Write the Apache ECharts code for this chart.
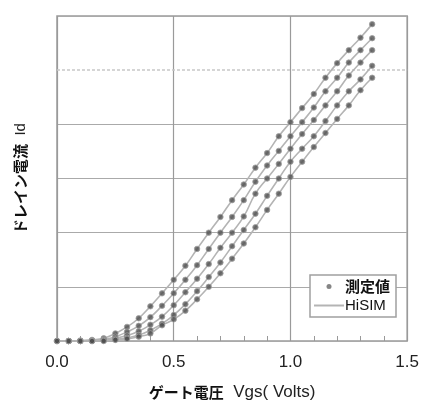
<!DOCTYPE html>
<html><head><meta charset="utf-8">
<script src="https://cdn.jsdelivr.net/npm/echarts@6/dist/echarts.min.js"></script>
<style>html,body{margin:0;padding:0;background:#fff}#c{width:422px;height:406px}</style>
</head><body><div id="c"></div>
<script>
const vgs = [0,0.05,0.1,0.15,0.2,0.25,0.3,0.35,0.4,0.45,0.5,0.55,0.6,0.65,0.7,0.75,0.8,0.85,0.9,0.95,1.0,1.05,1.1,1.15,1.2,1.25,1.3,1.35];
const id1 = [0,0,0.01,0.02,0.05,0.14,0.26,0.42,0.64,0.88,1.13,1.39,1.7,2.0,2.29,2.6,2.89,3.2,3.47,3.78,4.04,4.3,4.56,4.86,5.13,5.37,5.6,5.85];
const id2 = [0,0,0,0.01,0.03,0.08,0.17,0.28,0.44,0.65,0.88,1.13,1.4,1.7,2.0,2.29,2.6,2.94,3.24,3.51,3.78,4.04,4.31,4.61,4.86,5.14,5.37,5.59];
const id3 = [0,0,0,0,0.02,0.05,0.1,0.18,0.3,0.45,0.66,0.9,1.15,1.42,1.72,2.0,2.3,2.72,3.0,3.27,3.55,3.82,4.08,4.35,4.61,4.9,5.14,5.37];
const id4 = [0,0,0,0,0.01,0.03,0.06,0.11,0.2,0.32,0.48,0.68,0.92,1.18,1.45,1.75,2.05,2.35,2.68,3.0,3.31,3.55,3.78,4.06,4.35,4.61,4.83,5.08];
const id5 = [0,0,0,0,0,0.02,0.04,0.08,0.14,0.29,0.4,0.56,0.77,1.0,1.25,1.52,1.8,2.1,2.42,2.72,3.03,3.31,3.58,3.84,4.1,4.35,4.63,4.86];
const curves = [id1,id2,id3,id4,id5];
const xTicks = ['0.0','0.5','1.0','1.5'];
const faintGridY = [5];
const measName = '測定値', simName = 'HiSIM';

const series = [];
curves.forEach((c, k) => {
  const d = vgs.map((x,i)=>[x,c[i]]);
  const s = {name: simName, type:'line', data:d, smooth:true, symbol:'none', z:2,
    lineStyle:{color:'#b4b4b4', width:1.6}, itemStyle:{color:'#b4b4b4'}};
  if (k === 0) {
    s.markLine = {silent:true, symbol:'none', label:{show:false}, z:1,
      lineStyle:{color:'#c8c8c8', type:[3,2], width:1.5},
      data: faintGridY.map(v=>({yAxis:v}))};
  }
  series.push(s);
});
curves.forEach(c => {
  const d = vgs.map((x,i)=>[x,c[i]]);
  series.push({name: measName, type:'scatter', data:d, symbol:'circle', symbolSize:5.5, z:3,
    itemStyle:{color:'#505050', borderColor:'#a0a0a0', borderWidth:1}});
});

const chart = echarts.init(document.getElementById('c'), null, {renderer:'canvas'});
chart.setOption({
  animation:false,
  grid:{left:57, right:12, top:16, bottom:62, show:true, borderColor:'#9a9a9a', borderWidth:1.5},
  legend:{orient:'vertical', left:310, top:275,
    data:[{name:measName, icon:'circle', itemStyle:{color:'#666', borderWidth:0}},
          {name:simName, icon:'path://M0,0H30V2H0Z', itemStyle:{color:'#b4b4b4', borderWidth:0}}],
    backgroundColor:'#fff', borderColor:'#a0a0a0', borderWidth:1.5, borderRadius:0,
    padding:[4,6,4,4], itemGap:4, itemWidth:30, itemHeight:5,
    formatter: n => n===measName ? '{b|'+n+'}' : n,
    textStyle:{fontSize:15, color:'#111', fontFamily:'Liberation Sans', padding:[0,0,0,-4],
      rich:{b:{fontSize:15, fontWeight:'bold', fontFamily:'Noto Sans CJK JP', color:'#111'}}}
  },
  xAxis:{type:'value', min:0, max:1.5, interval:0.5,
    axisLine:{show:false},
    axisTick:{show:true, inside:true, length:5, lineStyle:{color:'#999'}},
    minorTick:{show:true, splitNumber:5, length:5, lineStyle:{color:'#999'}},
    axisLabel:{fontSize:17, color:'#222', fontFamily:'Liberation Sans', margin:13,
      formatter:v=>xTicks[Math.round(v/0.5)]},
    splitLine:{show:true, lineStyle:{color:'#9a9a9a', width:1.2}},
    name:'{b|ゲート電圧}  Vgs( Volts)', nameLocation:'middle', nameGap:43,
    nameTextStyle:{fontSize:17, color:'#222', fontFamily:'Liberation Sans',
      rich:{b:{fontSize:15, fontWeight:'bold', fontFamily:'Noto Sans CJK JP', color:'#111'}}}
  },
  yAxis:{type:'value', min:0, max:6, interval:1,
    axisLine:{show:false}, axisTick:{show:false},
    axisLabel:{show:false},
    splitLine:{show:true, lineStyle:{color:['#aaa','#aaa','#aaa','#aaa','#aaa','rgba(0,0,0,0)','#aaa'], width:1.2}},
    name:'{b|ドレイン電流}  Id', nameLocation:'middle', nameGap:29,
    nameTextStyle:{fontSize:15, color:'#222', fontFamily:'Liberation Sans',
      rich:{b:{fontSize:15, fontWeight:'bold', fontFamily:'Noto Sans CJK JP', color:'#111'}}}
  },
  series: series
});
</script></body></html>
